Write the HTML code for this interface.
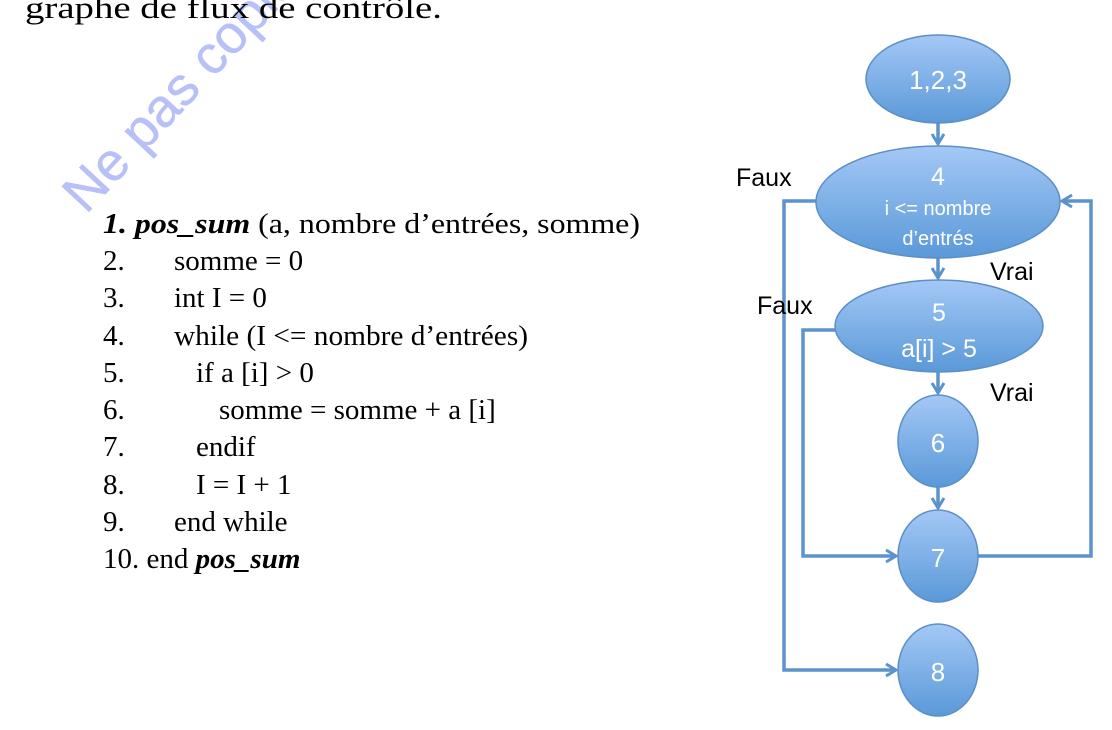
<!DOCTYPE html>
<html><head><meta charset="utf-8"><style>
html,body{margin:0;padding:0;background:#fff;width:1112px;height:730px;overflow:hidden}
</style></head><body>
<svg width="1112" height="730" xmlns="http://www.w3.org/2000/svg">
<defs>
<linearGradient id="g" x1="0" y1="0" x2="0" y2="1">
<stop offset="0" stop-color="#a4c8f6"/><stop offset="1" stop-color="#5a99d8"/>
</linearGradient>
<marker id="a" markerWidth="16" markerHeight="16" refX="13" refY="8" orient="auto" markerUnits="userSpaceOnUse">
<path d="M3,2 L13,8 L3,14" fill="none" stroke="#5b93cc" stroke-width="3"/>
</marker>
</defs>
<text x="86" y="215" transform="rotate(-47 86 215)" font-family="Liberation Sans, sans-serif" font-size="54" fill="#b8c0f8" stroke="#b8c0f8" stroke-width="0.5">Ne pas copier</text>
<text x="25" y="18" font-family="Liberation Serif, serif" font-size="31" fill="#000" textLength="417" lengthAdjust="spacingAndGlyphs">graphe de flux de contrôle.</text>

<g font-family="Liberation Serif, serif" font-size="29" fill="#000">
<text x="103" y="233" textLength="537" lengthAdjust="spacingAndGlyphs"><tspan font-weight="bold" font-style="italic">1. pos_sum</tspan> (a, nombre d’entrées, somme)</text>
<text x="103" y="270">2.</text><text x="174" y="270">somme = 0</text>
<text x="103" y="307">3.</text><text x="174" y="307">int I = 0</text>
<text x="103" y="345">4.</text><text x="174" y="345" textLength="354" lengthAdjust="spacingAndGlyphs">while (I &lt;= nombre d’entrées)</text>
<text x="103" y="382">5.</text><text x="196" y="382">if a [i] &gt; 0</text>
<text x="103" y="419">6.</text><text x="219" y="419">somme = somme + a [i]</text>
<text x="103" y="456">7.</text><text x="196" y="456">endif</text>
<text x="103" y="494">8.</text><text x="196" y="494">I = I + 1</text>
<text x="103" y="531">9.</text><text x="174" y="531">end while</text>
<text x="103" y="568">10. end <tspan font-weight="bold" font-style="italic">pos_sum</tspan></text>
</g>

<g stroke="#5b93cc" stroke-width="3.5" fill="none">
<line x1="938" y1="123" x2="938" y2="144" marker-end="url(#a)"/>
<line x1="938" y1="258" x2="938" y2="278" marker-end="url(#a)"/>
<line x1="938" y1="372" x2="938" y2="393" marker-end="url(#a)"/>
<line x1="938" y1="487" x2="938" y2="508" marker-end="url(#a)"/>
<polyline points="818,201 784,201 784,670 896,670" marker-end="url(#a)"/>
<polyline points="838,330 803,330 803,556 896,556" marker-end="url(#a)"/>
<polyline points="978,556 1091,556 1091,201 1062,201" marker-end="url(#a)"/>
</g>

<g stroke="#5b8fc8" stroke-width="1.5" fill="url(#g)">
<ellipse cx="938" cy="79" rx="72" ry="44"/>
<ellipse cx="938" cy="202" rx="122" ry="56"/>
<ellipse cx="939" cy="326" rx="104" ry="46"/>
<ellipse cx="938" cy="441" rx="40" ry="46"/>
<ellipse cx="938" cy="556" rx="40" ry="46"/>
<ellipse cx="938" cy="670" rx="40" ry="46"/>
</g>

<g font-family="Liberation Sans, sans-serif" fill="#fff" text-anchor="middle">
<text x="938" y="89" font-size="26">1,2,3</text>
<text x="938" y="185" font-size="25">4</text>
<text x="938" y="215" font-size="20">i &lt;= nombre</text>
<text x="938" y="245" font-size="20">d’entrés</text>
<text x="939" y="321" font-size="25">5</text>
<text x="939" y="357" font-size="25">a[i] &gt; 5</text>
<text x="938" y="452" font-size="26">6</text>
<text x="938" y="567" font-size="26">7</text>
<text x="938" y="681" font-size="26">8</text>
</g>
<g font-family="Liberation Sans, sans-serif" fill="#000" font-size="25">
<text x="736" y="186">Faux</text>
<text x="990" y="280">Vrai</text>
<text x="757" y="314">Faux</text>
<text x="990" y="401">Vrai</text>
</g>
</svg>
</body></html>
